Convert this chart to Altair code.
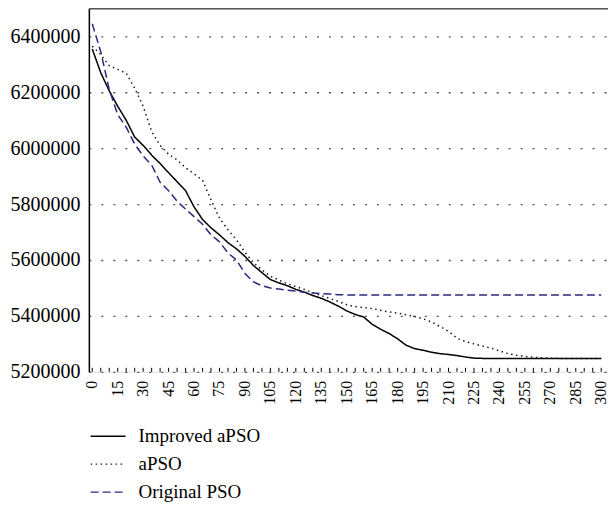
import altair as alt
import pandas as pd

iterations = list(range(0, 301, 5))

improved_apso = [6355000, 6270000, 6205000, 6150000, 6100000, 6040000, 6010000, 5975000,
                 5945000, 5912000, 5880000, 5848000, 5790000, 5745000, 5715000, 5690000,
                 5662000, 5640000, 5613000, 5580000, 5555000, 5530000, 5518000, 5508000,
                 5495000, 5485000, 5473000, 5463000, 5450000, 5435000, 5418000, 5405000,
                 5396000, 5370000, 5352000, 5337000, 5318000, 5295000, 5283000, 5277000,
                 5270000, 5265000, 5262000, 5258000, 5253000, 5249000] + [5248000] * 15

apso = [6365000, 6335000, 6295000, 6282000, 6268000, 6215000, 6150000, 6060000,
        6010000, 5978000, 5958000, 5930000, 5908000, 5885000, 5815000, 5750000,
        5708000, 5672000, 5628000, 5590000, 5565000, 5542000, 5528000, 5515000,
        5505000, 5495000, 5483000, 5473000, 5462000, 5452000, 5440000, 5433000,
        5430000, 5426000, 5420000, 5414000, 5410000, 5404000, 5398000, 5390000,
        5378000, 5362000, 5345000, 5320000, 5308000, 5300000, 5292000, 5285000,
        5275000, 5265000, 5259000, 5255000, 5252000, 5250000, 5249000] + [5248000] * 6

original_pso = [6445000, 6345000, 6210000, 6120000, 6075000, 6015000, 5972000, 5940000,
                5878000, 5848000, 5810000, 5782000, 5755000, 5728000, 5690000, 5665000,
                5625000, 5600000, 5552000, 5522000, 5508000, 5500000, 5496000, 5492000,
                5489000, 5485000, 5482000, 5480000, 5478000, 5476000] + [5475000] * 31

series_names = ["Improved aPSO", "aPSO", "Original PSO"]
series_colors = ["#000000", "#1a1a1a", "#2a2a80"]
series_dashes = [[1, 0], [1.5, 3.5], [8, 4]]

y_ticks = [5200000, 5400000, 5600000, 5800000, 6000000, 6200000, 6400000]
x_labels = list(range(0, 301, 15))
x_minor_ticks = list(range(0, 301, 5))

rows = []
for name, vals in zip(series_names, [improved_apso, apso, original_pso]):
    for t, v in zip(iterations, vals):
        rows.append({"iteration": t, "value": v, "series": name})
df = pd.DataFrame(rows)
ticks_df = pd.DataFrame({"t": x_minor_ticks})
labels_df = pd.DataFrame({"t": x_labels, "label": [str(v) for v in x_labels]})

W, H = 520, 364
serif = "Liberation Serif"

x_scale = alt.Scale(domain=[-2, 304], nice=False, zero=False)
y_scale = alt.Scale(domain=[5200000, 6500000], nice=False, zero=False)

lines = alt.Chart(df).mark_line(strokeWidth=1.5).encode(
    x=alt.X("iteration:Q", scale=x_scale, axis=None),
    y=alt.Y("value:Q", scale=y_scale,
            axis=alt.Axis(values=y_ticks, title=None, ticks=False, format="d",
                          labelFont=serif, labelFontSize=20, labelColor="#000",
                          labelPadding=9, domainColor="#000", domainWidth=1.5,
                          grid=True, gridColor="#555", gridDash=[2, 10], gridWidth=1.3,
                          labelFlush=False, labelOverlap=False)),
    color=alt.Color("series:N",
                    scale=alt.Scale(domain=series_names, range=series_colors),
                    legend=alt.Legend(title=None, orient="none", legendX=9.75, legendY=419,
                                      direction="vertical", symbolType="M-2,0H2",
                                      symbolSize=306, symbolStrokeWidth=1.4,
                                      labelFont=serif, labelFontSize=19, labelColor="#000",
                                      rowPadding=8, labelOffset=21, padding=0)),
    strokeDash=alt.StrokeDash("series:N",
                              scale=alt.Scale(domain=series_names, range=series_dashes),
                              legend=None),
)

minor_ticks = alt.Chart(ticks_df).mark_rule(color="#000", strokeWidth=1).encode(
    x=alt.X("t:Q", scale=x_scale,
            axis=alt.Axis(title=None, labels=False, ticks=False, grid=False,
                          domainColor="#000", domainWidth=1.5)),
    y=alt.value(H - 4),
    y2=alt.value(H),
)

x_text = alt.Chart(labels_df).mark_text(
    angle=270, align="right", baseline="middle", font=serif,
    fontSize=16, color="#000",
).encode(
    x=alt.X("t:Q", scale=x_scale),
    y=alt.value(H + 9),
    text="label:N",
)

top_border = alt.Chart(ticks_df.head(1)).mark_rule(color="#555", strokeWidth=2).encode(
    x=alt.value(0), x2=alt.value(W + 20), y=alt.value(0),
)

chart = alt.layer(lines, minor_ticks, x_text, top_border).properties(
    width=W, height=H,
    autosize=alt.AutoSizeParams(type="none"),
    padding={"left": 81, "top": 0, "right": 0, "bottom": 131},
).configure_view(stroke=None).configure(background="white")

chart.save("out.html", embed_options={"renderer": "svg", "actions": False})
